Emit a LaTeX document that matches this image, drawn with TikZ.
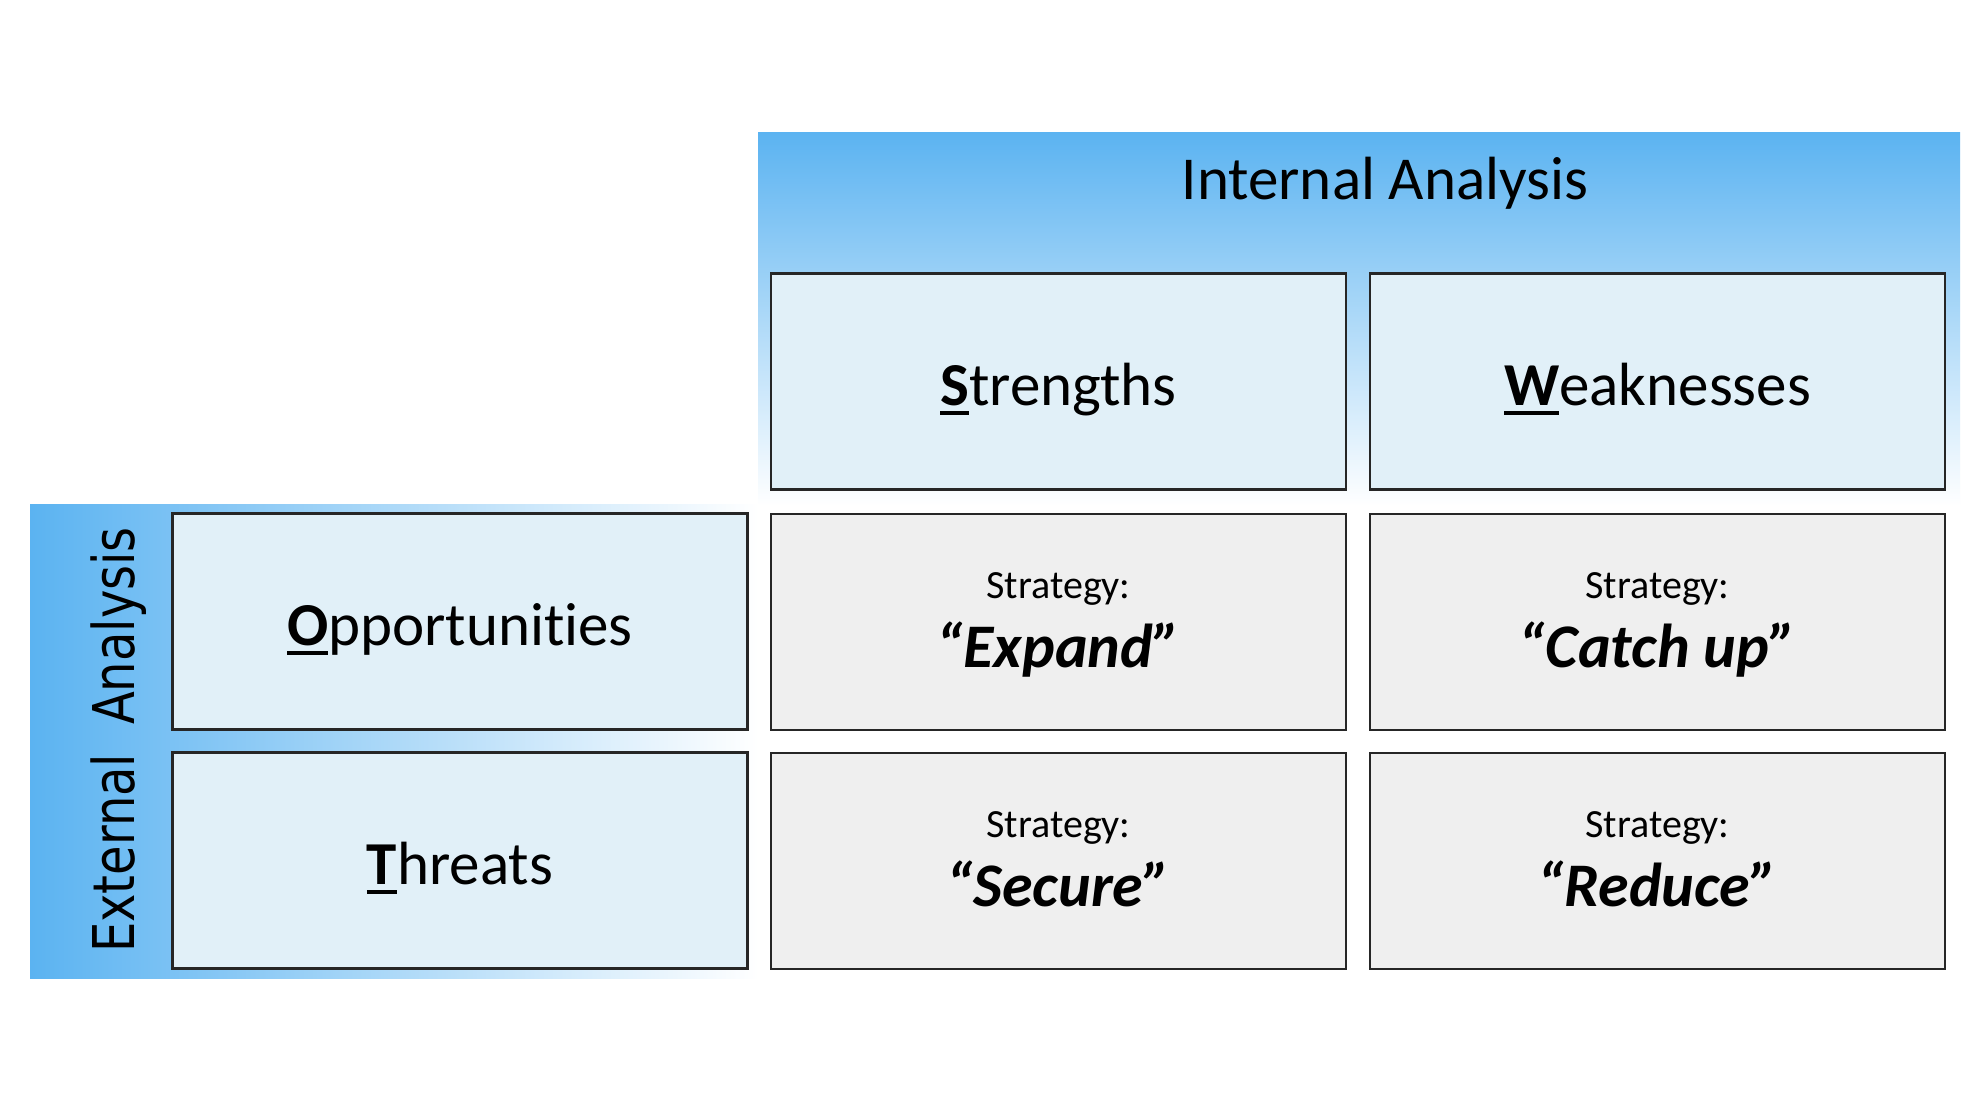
\documentclass[tikz,border=0pt]{standalone}
\usepackage{fontspec}
\setmainfont[Ligatures={NoCommon}]{Carlito}
\newfontfamily\extfont{DejaVu Sans}
\definecolor{bandblue}{HTML}{5BB3F1}
\definecolor{boxblue}{HTML}{E1F0F8}
\definecolor{boxgray}{HTML}{EFEFEF}
\newcommand\firstul[1]{\setbox0\hbox{\bfseries #1}\rlap{\rule[-0.16em]{\wd0}{0.065em}}\box0}
\begin{document}
\begin{tikzpicture}[x=1pt,y=-1pt,
  cell/.style={draw=black!85, line width=2.5pt, minimum width=575pt, minimum height=216pt, inner sep=0pt},
  bluecell/.style={cell, fill=boxblue},
  graycell/.style={cell, fill=boxgray},
  bigtxt/.style={anchor=base, inner sep=0pt, font=\fontsize{61}{70}\selectfont},
  smalltxt/.style={anchor=base, inner sep=0pt, font=\fontsize{40}{48}\selectfont},
  strtxt/.style={anchor=base, inner sep=0pt, font=\fontsize{62}{70}\selectfont\bfseries\itshape}]
\fill[white] (0,0) rectangle (1984,1116);
\useasboundingbox (0,0) rectangle (1984,1116);
% bands
\shade[top color=bandblue, bottom color=white] (758,132) rectangle (1960,506);
\shade[left color=bandblue, right color=white] (30,504) rectangle (759,978);
% cells
\node[bluecell] (S) at (1058.5,381.5) {};
\node[bluecell] (W) at (1657.5,381.5) {};
\node[bluecell] (O) at (460,621.5) {};
\node[bluecell] (T) at (460,860.5) {};
\node[graycell] (SO) at (1058.5,622) {};
\node[graycell] (WO) at (1657.5,622) {};
\node[graycell] (ST) at (1058.5,861) {};
\node[graycell] (WT) at (1657.5,861) {};
% headings
\node[bigtxt] (intl) at (1385,199) {Internal Analysis};
\node[anchor=base, inner sep=0pt, rotate=90, font=\extfont\fontsize{48}{56}\selectfont] (extl) at (134,740)
  {\scalebox{1}[1.2]{External\hspace{0.6em}Analysis}};
% labels
\node[bigtxt] (Sl) at (S.center |- 0,405) {\firstul{S}trengths};
\node[bigtxt] (Wl) at (W.center |- 0,405) {\firstul{W}eaknesses};
\node[bigtxt] (Ol) at (O.center |- 0,645) {\firstul{O}pportunities};
\node[bigtxt] (Tl) at (T.center |- 0,884) {\firstul{T}hreats};
% strategies
\node[smalltxt] (SOa) at (SO.center |- 0,598) {Strategy:};
\node[strtxt] (SOb) at (SO.center |- 0,667) {“Expand”};
\node[smalltxt] (WOa) at (WO.center |- 0,598) {Strategy:};
\node[strtxt] (WOb) at (WO.center |- 0,667) {“Catch up”};
\node[smalltxt] (STa) at (ST.center |- 0,837) {Strategy:};
\node[strtxt] (STb) at (ST.center |- 0,906) {“Secure”};
\node[smalltxt] (WTa) at (WT.center |- 0,837) {Strategy:};
\node[strtxt] (WTb) at (WT.center |- 0,906) {“Reduce”};
\end{tikzpicture}
\end{document}
